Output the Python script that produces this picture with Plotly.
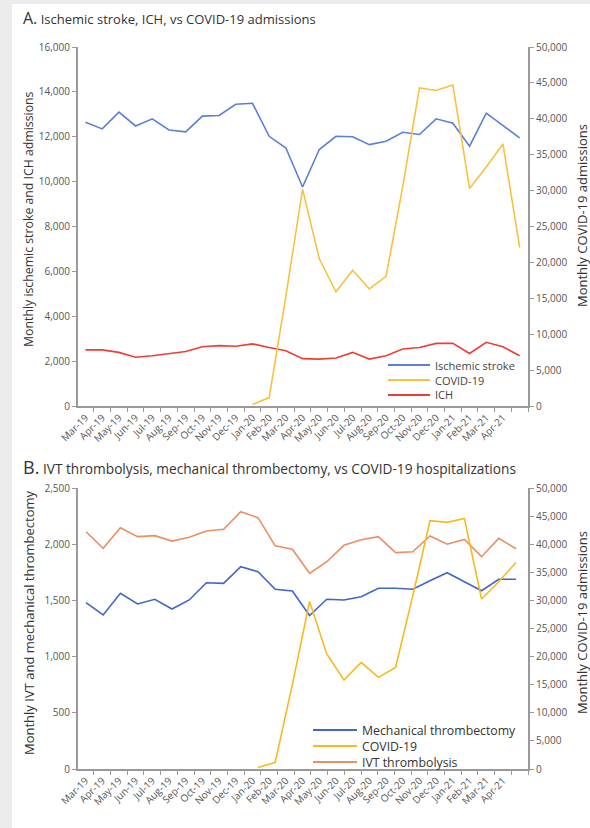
import plotly.graph_objects as go

# ---- data -------------------------------------------------------------
tick_labels = ["Mar-19", "Apr-19", "May-19", "Jun-19", "Jul-19", "Aug-19",
               "Sep-19", "Oct-19", "Nov-19", "Dec-19", "Jan-20", "Feb-20",
               "Mar-20", "Apr-20", "May-20", "Jun-20", "Jul-20", "Aug-20",
               "Sep-20", "Oct-20", "Nov-20", "Dec-20", "Jan-21", "Feb-21",
               "Mar-21", "Apr-21"]

# Panel A: monthly admissions
ischemic_stroke = [12650, 12350, 13100, 12480, 12800, 12300, 12220, 12920,
                   12950, 13450, 13490, 12020, 11500, 9760, 11430, 12020,
                   12000, 11650, 11800, 12200, 12100, 12800, 12600, 11580,
                   13050, 12500, 11950]
ich = [2500, 2500, 2390, 2170, 2240, 2340, 2430, 2640, 2690, 2660, 2770,
       2610, 2460, 2110, 2090, 2140, 2390, 2090, 2240, 2540, 2610, 2790,
       2790, 2340, 2840, 2640, 2240]
covid_admissions = [None] * 10 + [200, 1170, 15300, 30200, 20500, 15900,
                                  18900, 16300, 18050, 30600, 44300, 43950,
                                  44700, 30300, 33300, 36500, 22100]

# Panel B: monthly procedures and hospitalizations
mech_thrombectomy = [1480, 1370, 1563, 1468, 1510, 1423, 1504, 1657, 1652,
                     1800, 1755, 1599, 1584, 1365, 1510, 1504, 1533, 1608,
                     1608, 1599, 1675, 1746, 1666, 1586, 1688, 1688]
ivt_thrombolysis = [2111, 1963, 2147, 2067, 2076, 2028, 2061, 2117, 2133,
                    2289, 2236, 1985, 1955, 1741, 1844, 1990, 2040, 2067,
                    1925, 1933, 2073, 2000, 2043, 1889, 2052, 1960]
covid_hospitalizations = [None] * 10 + [250, 1190, 15000, 29800, 20460,
                                        15840, 18970, 16300, 18080, 30800,
                                        44180, 43880, 44590, 30250, 33330,
                                        36760]

x_a = list(range(len(ischemic_stroke)))
x_b = list(range(len(mech_thrombectomy)))

# ---- styling ----------------------------------------------------------
FONT = "Open Sans"
AXIS_GRAY = "#9a9a9a"
TICK_GRAY = "#555555"
TEXT = "#333333"
W, H = 590, 828
ML, MR, MT, MB = 78, 62, 47, 59
PW, PH = W - ML - MR, H - MT - MB


def px_x(px):
    return (px - ML) / PW


def px_y(py):
    return (H - MB - py) / PH


C_STROKE = "#5b7fd6"
C_COVID = "#f7c142"
C_ICH = "#ef3d35"
C_MT = "#4166c6"
C_COVID_B = "#f5ba22"
C_IVT = "#e98f63"
LW = 1.6

series_a = [("Ischemic stroke", ischemic_stroke, C_STROKE, "y"),
            ("COVID-19", covid_admissions, C_COVID, "y2"),
            ("ICH", ich, C_ICH, "y")]
series_b = [("Mechanical thrombectomy", mech_thrombectomy, C_MT, "y3"),
            ("COVID-19", covid_hospitalizations, C_COVID_B, "y4"),
            ("IVT thrombolysis", ivt_thrombolysis, C_IVT, "y3")]

fig = go.Figure()

for name, vals, color, yax in series_a:
    fig.add_trace(go.Scatter(x=x_a, y=vals, name=name, mode="lines",
                             line=dict(color=color, width=LW),
                             xaxis="x", yaxis=yax, showlegend=False))

# empty trace so the labelled month axis of panel B is built
fig.add_trace(go.Scatter(x=[], y=[], xaxis="x3", yaxis="y3",
                         showlegend=False, hoverinfo="skip"))

for name, vals, color, yax in series_b:
    fig.add_trace(go.Scatter(x=x_b, y=vals, name=name, mode="lines",
                             line=dict(color=color, width=LW),
                             xaxis="x4", yaxis=yax, showlegend=False))

dom_a = [px_y(406), 1.0]
dom_b = [0.0, px_y(488)]

tick_font = dict(family=FONT, size=10, color=TICK_GRAY)


def month_axis(anchor):
    return dict(
        domain=[0, 1], anchor=anchor, range=[-0.45, 26.5],
        tickmode="array", tickvals=list(range(len(tick_labels))),
        ticktext=tick_labels, tickangle=-45, ticks="", ticklen=0,
        showline=True, linecolor=AXIS_GRAY, linewidth=2,
        showgrid=False, zeroline=False, tickfont=tick_font,
        minor=dict(ticks="outside", ticklen=4, tickcolor=AXIS_GRAY,
                   tickwidth=1, tickmode="linear", tick0=-0.5, dtick=1,
                   showgrid=False),
    )


def value_axis(anchor, domain, rng, dtick, side="left", overlaying=None):
    ax = dict(
        anchor=anchor, range=rng, dtick=dtick, tick0=0, side=side,
        tickformat=",", ticks="outside", ticklen=4, tickwidth=1,
        tickcolor=AXIS_GRAY, showline=True, linecolor=AXIS_GRAY,
        linewidth=2, showgrid=False, zeroline=False, tickfont=tick_font,
    )
    if overlaying:
        ax["overlaying"] = overlaying
    else:
        ax["domain"] = domain
    return ax


fig.update_layout(
    width=W, height=H,
    margin=dict(l=ML, r=MR, t=MT, b=MB, pad=0),
    paper_bgcolor="white", plot_bgcolor="rgba(0,0,0,0)",
    font=dict(family=FONT, color=TEXT),
    showlegend=False,
    xaxis=month_axis("y"),
    yaxis=value_axis("x", dom_a, [0, 16000], 2000),
    yaxis2=value_axis("x", dom_a, [0, 50000], 5000, side="right",
                      overlaying="y"),
    xaxis3=month_axis("y3"),
    xaxis4=dict(domain=[0, 1], anchor="y3", overlaying="x3",
                range=[-0.465, 25.70], visible=False),
    yaxis3=value_axis("x3", dom_b, [0, 2500], 500),
    yaxis4=value_axis("x3", dom_b, [0, 50000], 5000, side="right",
                      overlaying="y3"),
)

annotations = [
    dict(text="<span style='font-size:16px'>A.</span> Ischemic stroke, ICH, "
              "vs COVID-19 admissions",
         x=px_x(21), y=px_y(18), xanchor="left", yanchor="middle",
         font=dict(family=FONT, size=13, color=TEXT)),
    dict(text="<span style='font-size:18px'>B.</span> IVT thrombolysis, "
              "mechanical thrombectomy, vs COVID-19 hospitalizations",
         x=px_x(21), y=px_y(467), xanchor="left", yanchor="middle",
         font=dict(family=FONT, size=13.7, color=TEXT)),
    dict(text="Monthly ischemic stroke and ICH admissions", textangle=-90,
         x=px_x(29), y=px_y(219), xanchor="center", yanchor="middle",
         font=dict(family=FONT, size=12.3, color=TEXT)),
    dict(text="Monthly COVID-19 admissions", textangle=-90,
         x=px_x(582), y=px_y(216), xanchor="center", yanchor="middle",
         font=dict(family=FONT, size=13, color=TEXT)),
    dict(text="Monthly IVT and mechanical thrombectomy", textangle=-90,
         x=px_x(29), y=px_y(623), xanchor="center", yanchor="middle",
         font=dict(family=FONT, size=13, color=TEXT)),
    dict(text="Monthly COVID-19 admissions", textangle=-90,
         x=px_x(582), y=px_y(623), xanchor="center", yanchor="middle",
         font=dict(family=FONT, size=13, color=TEXT)),
]

shapes = [
    # light page frame along the top and left edges
    dict(type="rect", xref="paper", yref="paper", layer="below",
         x0=px_x(0), x1=px_x(12), y0=px_y(H), y1=px_y(0),
         fillcolor="#ececec", line=dict(width=0)),
    dict(type="rect", xref="paper", yref="paper", layer="below",
         x0=px_x(0), x1=px_x(W), y0=px_y(4), y1=px_y(0),
         fillcolor="#ececec", line=dict(width=0)),
]


def add_legend(series, x_line, line_len, y_first, row_gap, size, color):
    for k, (name, _vals, c, _ax) in enumerate(series):
        yy = px_y(y_first + k * row_gap)
        shapes.append(dict(type="line", xref="paper", yref="paper",
                           x0=px_x(x_line), x1=px_x(x_line + line_len),
                           y0=yy, y1=yy, line=dict(color=c, width=2)))
        annotations.append(dict(text=name, x=px_x(x_line + line_len + 4),
                                y=yy, xanchor="left", yanchor="middle",
                                borderpad=0,
                                font=dict(family=FONT, size=size,
                                          color=color)))


add_legend(series_a, 388, 42, 365, 15, 11, "#444444")
add_legend(series_b, 313, 44, 730, 16, 12.3, TEXT)

for a in annotations:
    a.update(xref="paper", yref="paper", showarrow=False)
fig.update_layout(annotations=annotations, shapes=shapes)

fig.write_html("out.html")
